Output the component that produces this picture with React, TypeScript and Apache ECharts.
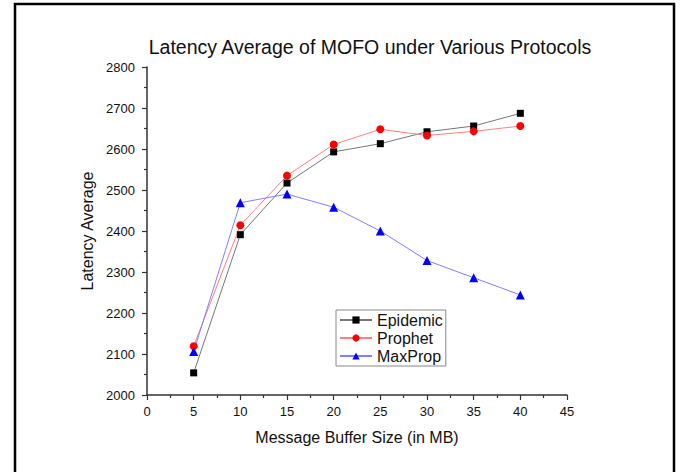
import React, { useEffect, useRef } from "react";
import * as echarts from "echarts";

const bufferSizes = [5, 10, 15, 20, 25, 30, 35, 40];
const epidemic = [2054, 2391, 2517, 2593, 2613, 2642, 2656, 2687];
const prophet = [2119, 2414, 2535, 2611, 2648, 2633, 2643, 2656];
const maxProp = [2106, 2469, 2490, 2458, 2400, 2328, 2286, 2244];

const FONT = "'Liberation Sans', Arial, sans-serif";

function pairs(ys: number[]) {
  return bufferSizes.map((x, i) => [x, ys[i]]);
}

export default function App() {
  const ref = useRef<HTMLDivElement>(null);
  useEffect(() => {
    const chart = echarts.init(ref.current!, null, { renderer: "svg" });
    chart.setOption({
      animation: false,
      backgroundColor: "#ffffff",
      title: {
        text: "Latency Average of MOFO under Various Protocols",
        left: 365,
        textAlign: "center",
        top: 32,
        textStyle: { fontFamily: FONT, fontSize: 19.5, fontWeight: "normal", color: "#111" },
      },
      graphic: [
        {
          type: "rect",
          shape: { x: 15, y: 4, width: 659, height: 520 },
          style: { fill: "none", stroke: "#000", lineWidth: 2.5 },
          silent: true,
        },
      ],
      legend: {
        orient: "vertical",
        left: 336,
        top: 310,
        itemWidth: 32,
        itemHeight: 9,
        itemGap: 2,
        padding: [2, 3, 2, 3],
        borderColor: "#888",
        borderWidth: 1,
        backgroundColor: "#fff",
        textStyle: { fontFamily: FONT, fontSize: 16, color: "#111", padding: [0, 0, 0, 0] },
        data: ["Epidemic", "Prophet", "MaxProp"],
      },
      grid: { left: 147, right: 113, top: 67, bottom: 77, containLabel: false },
      xAxis: {
        type: "value",
        min: 0,
        max: 45,
        interval: 5,
        name: "Message Buffer Size (in MB)",
        nameLocation: "middle",
        nameGap: 34,
        nameTextStyle: { fontFamily: FONT, fontSize: 16, color: "#111" },
        axisLine: { show: true, onZero: false, lineStyle: { color: "#333", width: 1.5 } },
        axisTick: { show: true, length: 5, lineStyle: { color: "#333", width: 1.2 } },
        minorTick: { show: true, splitNumber: 2, length: 3, lineStyle: { color: "#333", width: 1.2 } },
        axisLabel: { fontFamily: FONT, fontSize: 13, color: "#111", margin: 10 },
        splitLine: { show: false },
      },
      yAxis: {
        type: "value",
        min: 2000,
        max: 2800,
        interval: 100,
        name: "Latency Average",
        nameLocation: "middle",
        nameGap: 44,
        nameTextStyle: { fontFamily: FONT, fontSize: 16, color: "#111" },
        axisLine: { show: true, onZero: false, lineStyle: { color: "#333", width: 1.5 } },
        axisTick: { show: true, length: 5, lineStyle: { color: "#333", width: 1.2 } },
        minorTick: { show: true, splitNumber: 2, length: 3, lineStyle: { color: "#333", width: 1.2 } },
        axisLabel: {
          fontFamily: FONT,
          fontSize: 13,
          color: "#111",
          margin: 12,
          formatter: (v: number) => String(v),
        },
        splitLine: { show: false },
      },
      series: [
        {
          name: "Epidemic",
          type: "line",
          data: pairs(epidemic),
          symbol: "rect",
          symbolSize: 7,
          itemStyle: { color: "#000" },
          lineStyle: { color: "#777", width: 1 },
        },
        {
          name: "Prophet",
          type: "line",
          data: pairs(prophet),
          symbol: "circle",
          symbolSize: 8,
          itemStyle: { color: "#ff0000" },
          lineStyle: { color: "#ff8080", width: 1 },
        },
        {
          name: "MaxProp",
          type: "line",
          data: pairs(maxProp),
          symbol: "triangle",
          symbolSize: 9,
          itemStyle: { color: "#0000ff" },
          lineStyle: { color: "#8080ff", width: 1 },
        },
      ],
    });
    return () => chart.dispose();
  }, []);
  return <div ref={ref} style={{ width: 680, height: 472, position: "absolute", left: 0, top: 0 }} />;
}
